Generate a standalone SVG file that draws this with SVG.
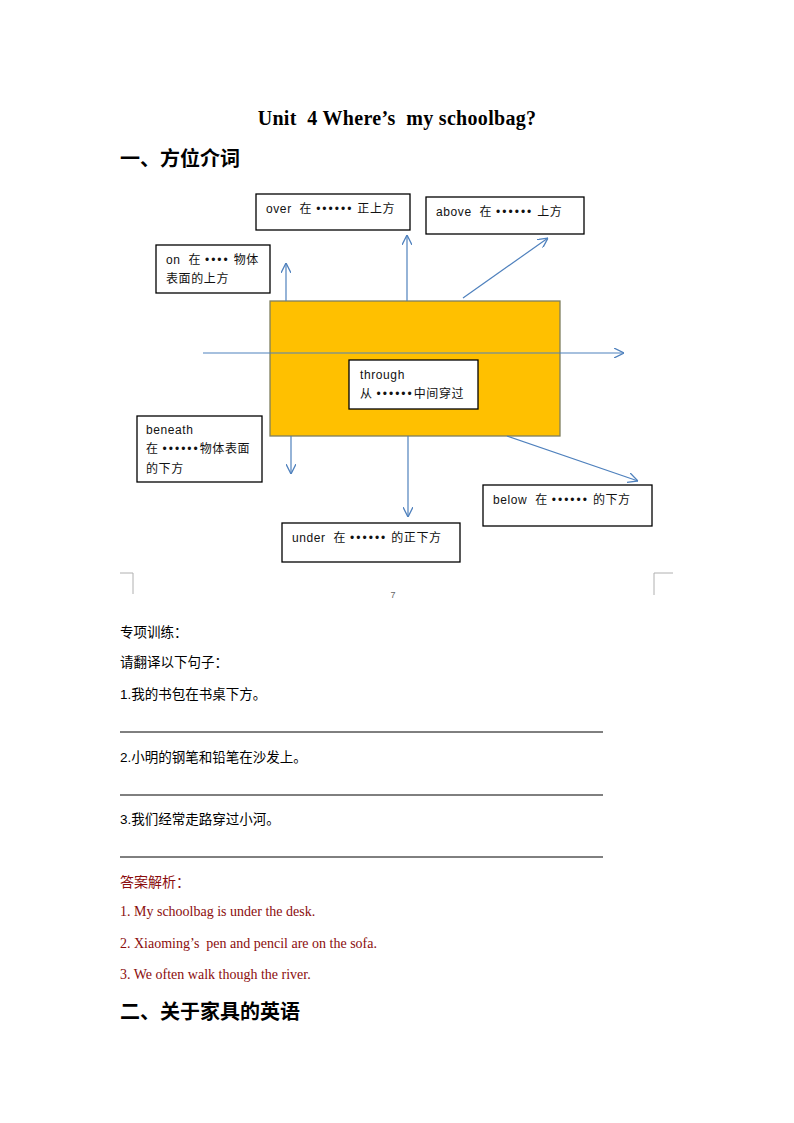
<svg xmlns="http://www.w3.org/2000/svg" width="794" height="1123" viewBox="0 0 794 1123">
<style>
text{white-space:pre}
.bx{fill:#fff;stroke:#000;stroke-width:1.3}
.lb{font-family:"Liberation Sans","Noto Sans CJK SC",sans-serif;font-size:12px;fill:#111;letter-spacing:0.6px}
.dt{letter-spacing:2px}
.cn{font-family:"Liberation Sans","Noto Sans CJK SC",sans-serif;font-size:13.5px;fill:#000}
.ans{font-family:"Liberation Serif","Noto Sans CJK SC",serif;font-size:14px;fill:#8b0d0d}
.hd{font-family:"Liberation Serif","Noto Sans CJK SC",serif;font-size:20px;font-weight:bold;fill:#000}
.ar{stroke:#4f81bd;stroke-width:1.2;fill:none}
.rule{stroke:#000;stroke-width:1}
.mk{stroke:#b0b0b0;stroke-width:1;fill:none}
</style>
<defs>
<marker id="ah" viewBox="0 0 10 10" refX="10" refY="5" markerWidth="10" markerHeight="10" markerUnits="userSpaceOnUse" orient="auto">
<path d="M0,0 L10,5 L0,10" fill="none" stroke="#4f81bd" stroke-width="1.3"/>
</marker>
</defs>
<rect width="794" height="1123" fill="#fff"/>
<text x="397" y="125" text-anchor="middle" class="hd" font-size="19" letter-spacing="0.3">Unit  4 Where’s  my schoolbag?</text>
<text x="120" y="166" class="hd">一、方位介词</text>

<g id="object"><rect x="270" y="301" width="290" height="135" fill="#ffc000" stroke="#7f7f5f" stroke-width="1.3"/></g>

<g id="connectors">
<line class="ar" x1="286" y1="301" x2="286" y2="263" marker-end="url(#ah)"/>
<line class="ar" x1="407" y1="301" x2="407" y2="235" marker-end="url(#ah)"/>
<line class="ar" x1="463" y1="298" x2="548" y2="238" marker-end="url(#ah)"/>
<line class="ar" x1="203" y1="353" x2="624" y2="353" marker-end="url(#ah)"/>
<line class="ar" x1="291" y1="436" x2="291" y2="474" marker-end="url(#ah)"/>
<line class="ar" x1="408" y1="436" x2="408" y2="517" marker-end="url(#ah)"/>
<line class="ar" x1="507" y1="436" x2="638" y2="481" marker-end="url(#ah)"/>
</g>

<g id="over"><rect class="bx" x="256" y="194" width="154" height="36"/><text x="266" y="213" class="lb">over  在 <tspan class="dt">••••••</tspan> 正上方</text></g>
<g id="above"><rect class="bx" x="426" y="197" width="158" height="37"/><text x="436" y="216" class="lb">above  在 <tspan class="dt">••••••</tspan> 上方</text></g>
<g id="on"><rect class="bx" x="156" y="245" width="114" height="48"/><text x="166" y="264" class="lb">on  在 <tspan class="dt">••••</tspan> 物体</text><text x="166" y="283" class="lb">表面的上方</text></g>
<g id="through"><rect class="bx" x="349" y="360" width="129" height="49"/><text x="360" y="379" class="lb">through</text><text x="360" y="398" class="lb">从 <tspan class="dt">••••••</tspan>中间穿过</text></g>
<g id="beneath"><rect class="bx" x="137" y="416" width="125" height="66"/><text x="146" y="434" class="lb">beneath</text><text x="146" y="453" class="lb">在 <tspan class="dt">••••••</tspan>物体表面</text><text x="146" y="473" class="lb">的下方</text></g>
<g id="below"><rect class="bx" x="483" y="485" width="169" height="41"/><text x="493" y="504" class="lb">below  在 <tspan class="dt">••••••</tspan> 的下方</text></g>
<g id="under"><rect class="bx" x="282" y="523" width="178" height="39"/><text x="292" y="542" class="lb">under  在 <tspan class="dt">••••••</tspan> 的正下方</text></g>

<path class="mk" d="M120,573 H133 V594"/>
<path class="mk" d="M673,573 H654 V595"/>
<text x="393" y="598" text-anchor="middle" font-family="Liberation Sans,sans-serif" font-size="9" fill="#666">7</text>

<text x="120" y="637" class="cn">专项训练：</text>
<text x="120" y="667" class="cn">请翻译以下句子：</text>
<text x="120" y="699" class="cn">1.我的书包在书桌下方。</text>
<line class="rule" x1="120" y1="732" x2="603" y2="732"/>
<text x="120" y="762" class="cn">2.小明的钢笔和铅笔在沙发上。</text>
<line class="rule" x1="120" y1="795" x2="603" y2="795"/>
<text x="120" y="824" class="cn">3.我们经常走路穿过小河。</text>
<line class="rule" x1="120" y1="857" x2="603" y2="857"/>
<text x="120" y="887" class="ans">答案解析：</text>
<text x="120" y="916" class="ans">1. My schoolbag is under the desk.</text>
<text x="120" y="948" class="ans">2. Xiaoming’s  pen and pencil are on the sofa.</text>
<text x="120" y="979" class="ans">3. We often walk though the river.</text>
<text x="120" y="1019" class="hd">二、关于家具的英语</text>
</svg>
